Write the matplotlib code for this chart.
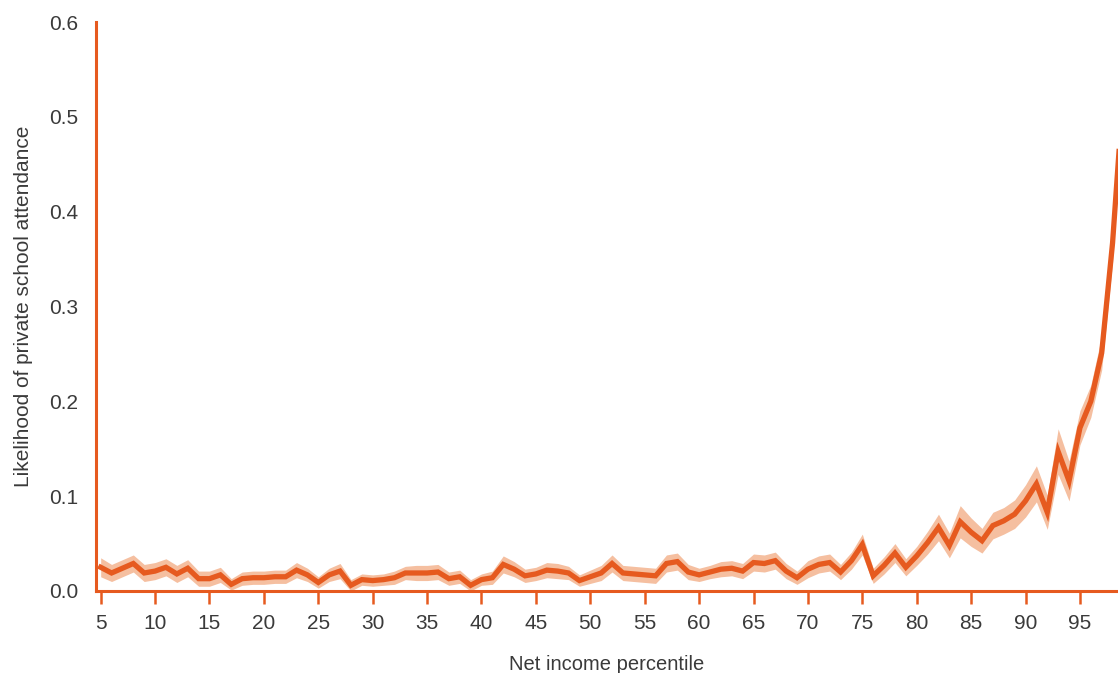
import matplotlib
matplotlib.use("Agg")
import matplotlib.pyplot as plt
import numpy as np

percentile = list(range(5, 100))
likelihood = [
    0.025, 0.019, 0.024, 0.029, 0.019, 0.021, 0.025, 0.018, 0.024, 0.013,  # 5-14
    0.013, 0.017, 0.007, 0.013, 0.014, 0.014, 0.015, 0.015, 0.022, 0.017,  # 15-24
    0.009, 0.017, 0.021, 0.006, 0.012, 0.011, 0.012, 0.014, 0.019, 0.019,  # 25-34
    0.019, 0.020, 0.013, 0.015, 0.006, 0.012, 0.014, 0.028, 0.023, 0.016,  # 35-44
    0.018, 0.022, 0.021, 0.019, 0.011, 0.015, 0.019, 0.029, 0.019, 0.018,  # 45-54
    0.017, 0.016, 0.029, 0.031, 0.020, 0.017, 0.020, 0.023, 0.024, 0.021,  # 55-64
    0.030, 0.029, 0.032, 0.021, 0.014, 0.023, 0.028, 0.030, 0.020, 0.032,  # 65-74
    0.049, 0.016, 0.027, 0.040, 0.025, 0.037, 0.051, 0.067, 0.048, 0.073,  # 75-84
    0.062, 0.053, 0.069, 0.074, 0.081, 0.095, 0.113, 0.083, 0.147, 0.116,  # 85-94
    0.172, 0.200, 0.251, 0.367, 0.530,                                     # 95-99
]
ci_half = [
    0.010, 0.009, 0.009, 0.009, 0.009, 0.009, 0.009, 0.009, 0.009, 0.008,
    0.008, 0.008, 0.006, 0.007, 0.007, 0.007, 0.007, 0.007, 0.008, 0.007,
    0.006, 0.007, 0.008, 0.006, 0.006, 0.006, 0.006, 0.007, 0.007, 0.008,
    0.008, 0.008, 0.007, 0.007, 0.006, 0.006, 0.007, 0.009, 0.008, 0.007,
    0.007, 0.008, 0.008, 0.007, 0.006, 0.007, 0.008, 0.009, 0.008, 0.008,
    0.008, 0.008, 0.009, 0.009, 0.008, 0.007, 0.007, 0.008, 0.008, 0.008,
    0.009, 0.009, 0.009, 0.008, 0.007, 0.009, 0.009, 0.009, 0.008, 0.009,
    0.011, 0.008, 0.009, 0.010, 0.009, 0.010, 0.012, 0.014, 0.013, 0.017,
    0.015, 0.013, 0.014, 0.014, 0.015, 0.017, 0.019, 0.018, 0.024, 0.021,
    0.018, 0.017, 0.018, 0.020, 0.024,
]

x_ticks = list(range(5, 100, 5))
y_ticks = [0.0, 0.1, 0.2, 0.3, 0.4, 0.5, 0.6]

orange = "#E65A1F"
band = "#F5BFA0"
text_col = "#3a3a3a"

plt.rcParams['font.family'] = ['Liberation Sans', 'DejaVu Sans']

fig = plt.figure(figsize=(11.18, 6.73), dpi=100)
ax = fig.add_axes([96 / 1118, 1 - 591 / 673, 1 - 96 / 1118, (591 - 22) / 673])

x = np.array(percentile)
y = np.array(likelihood)
c = np.array(ci_half)
ax.fill_between(x, y - c, y + c, color=band, linewidth=0, zorder=1)
ax.plot(x, y, color=orange, linewidth=3.8, solid_joinstyle='miter', zorder=2)

ax.set_xlim(4.57, 98.5)
ax.set_ylim(0, 0.6)
ax.set_xticks(x_ticks)
ax.set_yticks(y_ticks)
ax.set_yticklabels([f"{v:.1f}" for v in y_ticks])

for s in ['top', 'right']:
    ax.spines[s].set_visible(False)
for s in ['left', 'bottom']:
    ax.spines[s].set_color(orange)
    ax.spines[s].set_linewidth(2.2)

ax.tick_params(axis='x', direction='out', length=9.5, width=1.8, color=orange,
               labelsize=15, labelcolor=text_col, pad=7)
ax.tick_params(axis='y', length=0, labelsize=15, labelcolor=text_col, pad=13)

ax.set_xlabel("Net income percentile", fontsize=14.5, color=text_col, labelpad=16)
ax.set_ylabel("Likelihood of private school attendance", fontsize=15,
              color=text_col, labelpad=11)

fig.savefig("out.png", dpi=100)
